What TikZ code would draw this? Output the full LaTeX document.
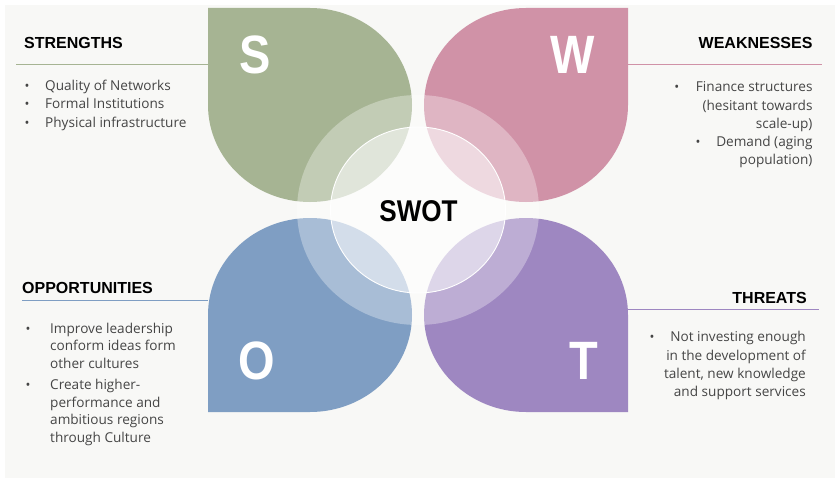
\documentclass[tikz,border=0pt]{standalone}
\usepackage{fontspec}
\setmainfont{Open Sans}
\newfontfamily\headfont{Liberation Sans}
\newfontfamily\letterfont[FakeStretch=0.87]{Liberation Sans}
\definecolor{sgreen}{HTML}{A6B493}
\definecolor{wpink}{HTML}{D092A7}
\definecolor{oblue}{HTML}{7F9EC3}
\definecolor{tpurple}{HTML}{9E87C1}
\definecolor{bgc}{HTML}{F8F8F6}
\definecolor{bodytext}{HTML}{454545}
\tikzset{
  heading/.style={inner sep=0pt, font=\headfont\bfseries\fontsize{16}{19}\selectfont, text=black},
  body/.style={inner sep=0pt, font=\fontsize{13.6}{16}\selectfont, text=bodytext},
  bul/.style={inner sep=0pt, font=\fontsize{13}{15}\selectfont, text=bodytext, anchor=base},
  bigletter/.style={inner sep=0pt, font=\letterfont\bfseries\fontsize{54}{60}\selectfont, text=white},
  rule/.style={line width=1.3pt},
  petalarc/.style={x radius=102, y radius=97},
}
\begin{document}
\begin{tikzpicture}[x=1pt, y=1pt]
  % canvas
  \fill[white] (0,0) rectangle (840,483);
  \fill[bgc] (5,5) rectangle (835,478);
  \useasboundingbox (0,0) rectangle (840,483);

  % four teardrop petals: three quarters of an ellipse plus one square corner
  \fill[sgreen] (208,475) -- (310,475)
      arc[start angle=90, end angle=-180, petalarc] -- cycle;
  \fill[wpink] (628,475) -- (628,378)
      arc[start angle=0, end angle=-270, petalarc] -- cycle;
  \fill[oblue] (208,71) -- (208,168)
      arc[start angle=180, end angle=-90, petalarc] -- cycle;
  \fill[tpurple] (628,71) -- (526,71)
      arc[start angle=270, end angle=0, petalarc] -- cycle;

  % translucent ring and centre disc
  \coordinate (hub) at (418,273);
  \fill[white, fill opacity=0.32, even odd rule]
      (hub) ellipse[x radius=121, y radius=115]
      (hub) ellipse[x radius=87.5, y radius=83];
  \fill[white, fill opacity=0.66] (hub) ellipse[x radius=87.5, y radius=83];
  \draw[white, line width=0.9pt] (hub) ellipse[x radius=87.5, y radius=83];

  \node[inner sep=0pt, font=\letterfont\bfseries\fontsize{30}{34}\selectfont] (swot) at (418.5,272) {SWOT};

  % petal letters
  \node[bigletter] (ls) at (255,428.5) {S};
  \node[bigletter] (lw) at (573,428.5) {W};
  \node[bigletter] (lo) at (257,122.5) {O};
  \node[bigletter] (lt) at (584,122.5) {T};

  % strengths
  \node[heading, anchor=base west] (sh) at (24,434.7) {STRENGTHS};
  \coordinate (sr0) at (16,418.5);
  \coordinate (sr1) at (208,418.5);
  \draw[rule, sgreen] (sr0) -- (sr1);
  \node[body, anchor=base west] (s1) at (45,392.3) {Quality of Networks};
  \node[body, anchor=base west] (s2) at (45,374.0) {Formal Institutions};
  \node[body, anchor=base west] (s3) at (45,355.7) {Physical infrastructure};
  \node[bul] (sb1) at ([xshift=-18pt]s1.base west) {•};
  \node[bul] (sb2) at ([xshift=-18pt]s2.base west) {•};
  \node[bul] (sb3) at ([xshift=-18pt]s3.base west) {•};

  % weaknesses
  \node[heading, anchor=base east] (wh) at (812.7,434.7) {WEAKNESSES};
  \coordinate (wr0) at (628,418.5);
  \coordinate (wr1) at (822,418.5);
  \draw[rule, wpink] (wr0) -- (wr1);
  \node[body, anchor=base east] (w1) at (812.7,391.3) {Finance structures};
  \node[body, anchor=base east] (w2) at (812.7,373.0) {(hesitant towards};
  \node[body, anchor=base east] (w3) at (812.7,354.7) {scale-up)};
  \node[body, anchor=base east] (w4) at (812.7,336.4) {Demand (aging};
  \node[body, anchor=base east] (w5) at (812.7,318.1) {population)};
  \node[bul] (wb1) at ([xshift=-19pt]w1.base west) {•};
  \node[bul] (wb2) at ([xshift=-18pt]w4.base west) {•};

  % opportunities
  \node[heading, anchor=base west] (oh) at (22,189.7) {OPPORTUNITIES};
  \coordinate (or0) at (22,182.3);
  \coordinate (or1) at (208,182.3);
  \draw[rule, oblue] (or0) -- (or1);
  \node[body, anchor=base west] (o1) at (50,149.7) {Improve leadership};
  \node[body, anchor=base west] (o2) at (50,132.2) {conform ideas form};
  \node[body, anchor=base west] (o3) at (50,114.7) {other cultures};
  \node[body, anchor=base west] (o4) at (50,93.5) {Create higher-};
  \node[body, anchor=base west] (o5) at (50,76.0) {performance and};
  \node[body, anchor=base west] (o6) at (50,58.5) {ambitious regions};
  \node[body, anchor=base west] (o7) at (50,41.0) {through Culture};
  \node[bul] (ob1) at ([xshift=-22pt]o1.base west) {•};
  \node[bul] (ob2) at ([xshift=-22pt]o4.base west) {•};

  % threats
  \node[heading, anchor=base east] (th) at (807,179.7) {THREATS};
  \coordinate (tr0) at (628,173.7);
  \coordinate (tr1) at (819,173.7);
  \draw[rule, tpurple] (tr0) -- (tr1);
  \node[body, anchor=base east] (t1) at (806,141.3) {Not investing enough};
  \node[body, anchor=base east] (t2) at (806,123.0) {in the development of};
  \node[body, anchor=base east] (t3) at (806,104.7) {talent, new knowledge};
  \node[body, anchor=base east] (t4) at (806,86.4) {and support services};
  \node[bul] (tb1) at ([xshift=-18pt]t1.base west) {•};
\end{tikzpicture}
\end{document}
